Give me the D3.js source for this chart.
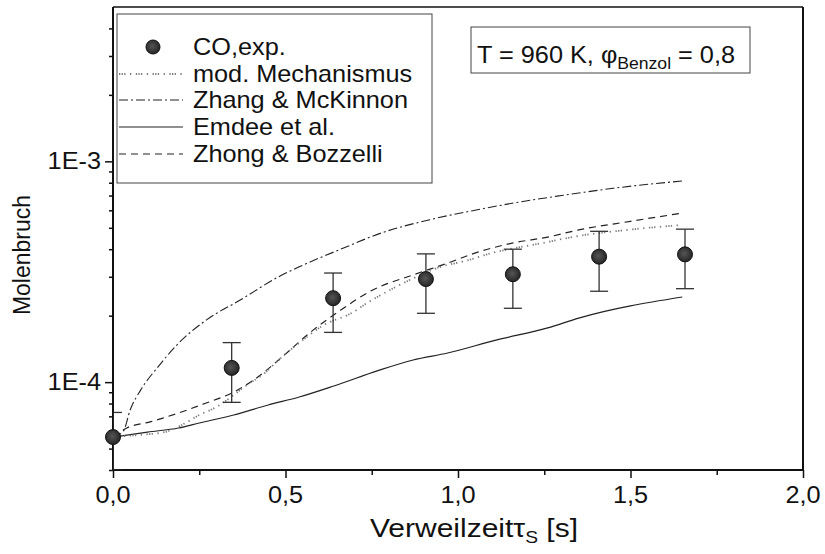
<!DOCTYPE html>
<html>
<head>
<meta charset="utf-8">
<script src="https://cdn.jsdelivr.net/npm/d3@7"></script>
<style>
  html, body { margin: 0; padding: 0; background: #fff; }
  svg { display: block; }
  text { font-family: "Liberation Sans", Arial, Helvetica, sans-serif; fill: #111; }
</style>
</head>
<body>
<svg id="chart" width="825" height="554"></svg>
<script>
// Residence time [s] and CO mole fractions (experiment with error bars)
const tauExp = [0, 0.344, 0.638, 0.907, 1.159, 1.409, 1.658];
const coExp  = [5.64e-5, 1.16e-4, 2.40e-4, 2.93e-4, 3.08e-4, 3.70e-4, 3.79e-4];
const coErr  = [1.65e-5, 3.5e-5, 7.2e-5, 8.8e-5, 9.2e-5, 1.12e-4, 1.14e-4];

// Model: modified mechanism
const tauMod = [0, 0.07, 0.15, 0.21, 0.25, 0.30, 0.35, 0.38, 0.44, 0.48, 0.55, 0.61, 0.69, 0.74, 0.82, 0.88, 0.94, 1.03, 1.10, 1.18, 1.26, 1.33, 1.49, 1.65];
const coMod  = [5.64e-5, 5.76e-5, 5.94e-5, 6.53e-5, 7.1e-5, 7.72e-5, 8.74e-5, 9.51e-5, 1.10e-4, 1.26e-4, 1.55e-4, 1.81e-4, 2.05e-4, 2.3e-4, 2.7e-4, 3.0e-4, 3.29e-4, 3.57e-4, 3.85e-4, 4.09e-4, 4.31e-4, 4.54e-4, 4.89e-4, 5.15e-4];

// Model: Zhang & McKinnon
const tauZhang = [0, 0.03, 0.05, 0.08, 0.13, 0.19, 0.27, 0.37, 0.48, 0.54, 0.66, 0.78, 0.92, 1.06, 1.18, 1.30, 1.45, 1.65];
const coZhang  = [5.64e-5, 6.0e-5, 7.5e-5, 9.2e-5, 1.17e-4, 1.5e-4, 1.91e-4, 2.36e-4, 3.0e-4, 3.33e-4, 4.0e-4, 4.75e-4, 5.45e-4, 6.05e-4, 6.55e-4, 7.0e-4, 7.55e-4, 8.15e-4];

// Model: Emdee et al.
const tauEmdee = [0, 0.10, 0.19, 0.25, 0.35, 0.45, 0.54, 0.64, 0.77, 0.87, 0.97, 1.11, 1.26, 1.35, 1.65];
const coEmdee  = [5.64e-5, 5.94e-5, 6.2e-5, 6.53e-5, 7.1e-5, 7.88e-5, 8.56e-5, 9.6e-5, 1.13e-4, 1.26e-4, 1.355e-4, 1.55e-4, 1.76e-4, 1.95e-4, 2.43e-4];

// Model: Zhong & Bozzelli
const tauZhong = [0, 0.04, 0.11, 0.19, 0.27, 0.35, 0.42, 0.48, 0.58, 0.66, 0.75, 0.87, 0.97, 1.06, 1.16, 1.26, 1.35, 1.50, 1.65];
const coZhong  = [5.64e-5, 6.2e-5, 6.62e-5, 7.25e-5, 8.04e-5, 9.02e-5, 1.055e-4, 1.26e-4, 1.72e-4, 2.12e-4, 2.6e-4, 3.06e-4, 3.46e-4, 3.89e-4, 4.27e-4, 4.54e-4, 4.89e-4, 5.35e-4, 5.83e-4];

// Axis ticks
const xMajor = [0, 0.5, 1.0, 1.5, 2.0];
const xMinor = [0.25, 0.75, 1.25, 1.75];
const xLabels = ["0,0", "0,5", "1,0", "1,5", "2,0"];
const yMajor = [1e-4, 1e-3];
const yLabels = ["1E-4", "1E-3"];
const yMinor = [4e-5, 5e-5, 6e-5, 7e-5, 8e-5, 9e-5,
                2e-4, 3e-4, 4e-4, 5e-4, 6e-4, 7e-4, 8e-4, 9e-4,
                2e-3, 3e-3, 4e-3];

const legendNames = ["CO,exp.", "mod. Mechanismus", "Zhang & McKinnon", "Emdee et al.", "Zhong & Bozzelli"];

// ---------------------------------------------------------------
const svg = d3.select("#chart");
const W = 825, H = 554;
const m = { left: 113, right: 803, top: 7, bottom: 470 };
const SX = 1.1;          // slightly wide lettering
const FS = 23;

svg.append("rect").attr("width", W).attr("height", H).attr("fill", "#fff");

const x = d3.scaleLinear().domain([0, 2]).range([m.left, m.right]);
const y = d3.scaleLog().domain([4e-5, 5e-3]).range([m.bottom, m.top]);

function txt(parent, px, py, str, anchor, size) {
  return parent.append("text")
    .attr("transform", `translate(${px},${py}) scale(${SX},1)`)
    .attr("text-anchor", anchor || "start")
    .attr("font-size", size || FS)
    .text(str);
}

// clip for data
svg.append("defs").append("clipPath").attr("id", "plotclip")
  .append("rect").attr("x", m.left).attr("y", m.top)
  .attr("width", m.right - m.left).attr("height", m.bottom - m.top);

// ---- axes
const gx = svg.append("g").attr("transform", `translate(0,${m.bottom})`);
gx.call(d3.axisBottom(x).tickValues(xMajor).tickSize(8).tickFormat(""));
gx.append("g").call(d3.axisBottom(x).tickValues(xMinor).tickSize(5).tickFormat(""));
gx.selectAll("path.domain").remove();
gx.selectAll("line").attr("stroke", "#111").attr("stroke-width", 1.5);

const gy = svg.append("g").attr("transform", `translate(${m.left},0)`);
gy.call(d3.axisLeft(y).tickValues(yMajor).tickSize(8).tickFormat(""));
gy.append("g").call(d3.axisLeft(y).tickValues(yMinor).tickSize(4).tickFormat(""));
gy.selectAll("path.domain").remove();
gy.selectAll("line").attr("stroke", "#111").attr("stroke-width", 1.5);

xMajor.forEach((v, i) => txt(svg, x(v), m.bottom + 33, xLabels[i], "middle"));
yMajor.forEach((v, i) => txt(svg, m.left - 12, y(v) + 8, yLabels[i], "end"));

// frame
svg.append("line").attr("x1", m.left).attr("x2", m.right).attr("y1", m.top).attr("y2", m.top)
  .attr("stroke", "#111").attr("stroke-width", 1.5);
svg.append("line").attr("x1", m.left).attr("x2", m.right).attr("y1", m.bottom).attr("y2", m.bottom)
  .attr("stroke", "#111").attr("stroke-width", 2);
svg.append("line").attr("x1", m.left).attr("x2", m.left).attr("y1", m.top).attr("y2", m.bottom)
  .attr("stroke", "#111").attr("stroke-width", 2);
svg.append("line").attr("x1", m.right).attr("x2", m.right).attr("y1", m.top).attr("y2", m.bottom)
  .attr("stroke", "#111").attr("stroke-width", 2);

// axis titles
const xt = svg.append("text")
  .attr("transform", `translate(370,537) scale(1.2,1)`)
  .attr("font-size", 25);
xt.append("tspan").text("Verweilzeit");
xt.append("tspan").text("τ");
xt.append("tspan").attr("font-size", 16).attr("dy", 6).text("S");
xt.append("tspan").attr("dy", -6).text(" [s]");

svg.append("text")
  .attr("transform", `translate(30,255) rotate(-90)`)
  .attr("text-anchor", "middle")
  .attr("font-size", FS)
  .text("Molenbruch");

// ---- curves
const plot = svg.append("g").attr("clip-path", "url(#plotclip)");
const line = d3.line().x(d => x(d[0])).y(d => y(d[1])).curve(d3.curveMonotoneX);

const styles = {
  mod:   { stroke: "#7a7a7a", width: 1.8, dash: "1.3,1.3,1.3,1.3,1.3,4.5,1.3,4.5" },
  zhang: { stroke: "#222", width: 1.1, dash: "9,3,2,3" },
  emdee: { stroke: "#222", width: 1.2, dash: null },
  zhong: { stroke: "#222", width: 1.2, dash: "7,5" }
};

function drawCurve(tau, vals, st) {
  plot.append("path")
    .datum(tau.map((t, i) => [t, vals[i]]))
    .attr("d", line)
    .attr("fill", "none")
    .attr("stroke", st.stroke)
    .attr("stroke-width", st.width)
    .attr("stroke-dasharray", st.dash);
}
drawCurve(tauZhang, coZhang, styles.zhang);
drawCurve(tauEmdee, coEmdee, styles.emdee);
drawCurve(tauZhong, coZhong, styles.zhong);
drawCurve(tauMod, coMod, styles.mod);

// ---- experiment: error bars + markers
const exp = tauExp.map((t, i) => ({ t, v: coExp[i], e: coErr[i] }));
const eb = plot.append("g").attr("stroke", "#333").attr("stroke-width", 1.3);
exp.forEach(d => {
  const y1 = y(d.v + d.e), y0 = y(Math.max(d.v - d.e, 1e-6));
  eb.append("line").attr("x1", x(d.t)).attr("x2", x(d.t)).attr("y1", y1).attr("y2", y0);
  eb.append("line").attr("x1", x(d.t) - 9).attr("x2", x(d.t) + 9).attr("y1", y1).attr("y2", y1);
  eb.append("line").attr("x1", x(d.t) - 9).attr("x2", x(d.t) + 9).attr("y1", y0).attr("y2", y0);
});

const grad = svg.select("defs").append("radialGradient").attr("id", "ball")
  .attr("cx", "45%").attr("cy", "45%").attr("r", "60%");
grad.append("stop").attr("offset", "0%").attr("stop-color", "#555");
grad.append("stop").attr("offset", "100%").attr("stop-color", "#222");

svg.append("g").selectAll("circle").data(exp).join("circle")
  .attr("cx", d => x(d.t)).attr("cy", d => y(d.v)).attr("r", 7.5)
  .attr("fill", "url(#ball)").attr("stroke", "#111").attr("stroke-width", 1);

// ---- legend
const lg = svg.append("g");
lg.append("rect").attr("x", 117).attr("y", 14).attr("width", 315).attr("height", 169)
  .attr("fill", "#fff").attr("stroke", "#444").attr("stroke-width", 1);
const rowY = [47, 74, 100, 127, 154];
const legendStyles = [null, styles.mod, styles.zhang, styles.emdee, styles.zhong];
legendNames.forEach((name, i) => {
  const ry = rowY[i];
  if (i === 0) {
    lg.append("circle").attr("cx", 153).attr("cy", ry).attr("r", 7)
      .attr("fill", "url(#ball)").attr("stroke", "#111");
  } else {
    const st = legendStyles[i];
    lg.append("line").attr("x1", 119).attr("x2", 183).attr("y1", ry).attr("y2", ry)
      .attr("stroke", st.stroke).attr("stroke-width", st.width).attr("stroke-dasharray", st.dash);
  }
  txt(lg, 193, ry + 8, name, "start");
});

// ---- condition box
const ib = svg.append("g");
ib.append("rect").attr("x", 471).attr("y", 27).attr("width", 279).attr("height", 46)
  .attr("fill", "#fff").attr("stroke", "#444").attr("stroke-width", 1);
const it = ib.append("text")
  .attr("transform", `translate(477,63) scale(${SX},1)`)
  .attr("font-size", FS);
it.append("tspan").text("T = 960 K, ");
it.append("tspan").text("φ");
it.append("tspan").attr("font-size", 16).attr("dy", 6).text("Benzol");
it.append("tspan").attr("dy", -6).text(" = 0,8");
</script>
</body>
</html>
